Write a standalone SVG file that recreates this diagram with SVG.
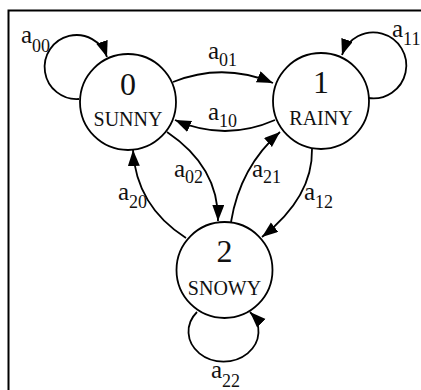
<svg xmlns="http://www.w3.org/2000/svg" width="421" height="390" viewBox="0 0 421 390" font-family="'Liberation Serif', 'Times New Roman', 'DejaVu Serif', serif">
<style>
text{font-family:'Liberation Serif','Times New Roman','DejaVu Serif',serif;fill:#111}
.node circle{fill:#fff;stroke:#000;stroke-width:1.8}
.num{font-size:32px;text-anchor:middle}
.name{font-size:20px;text-anchor:middle}
.edge{fill:none;stroke:#000;stroke-width:1.8;marker-end:url(#arr)}
.lbl{font-size:25px}
.sub{font-size:18px}
</style>
<defs>
<marker id="arr" markerUnits="userSpaceOnUse" markerWidth="18" markerHeight="14" refX="16" refY="6" orient="auto">
<path d="M0,0 L16,6 L0,12 z" fill="#000"/>
</marker>
</defs>
<rect x="0" y="0" width="421" height="390" fill="#fff"/>
<rect x="8.5" y="10.5" width="600" height="600" fill="none" stroke="#000" stroke-width="2"/>
<g id="connectors">
<path class="edge" d="M79,99 A32,32 0 1 1 107,57"/>
<path class="edge" d="M368,98 A33,33 0 1 0 342,55"/>
<path class="edge" d="M197,312 A35,30 0 1 0 250,312"/>
<path class="edge" d="M173,82 Q223,62 273,83"/>
<path class="edge" d="M275,120 Q225,142 175,120"/>
<path class="edge" d="M167,132 Q219,167 218,221"/>
<path class="edge" d="M231,222 Q240,167 280,132"/>
<path class="edge" d="M186,238 Q136,206 133,150"/>
<path class="edge" d="M312,149 Q313,197 262,237"/>
</g>
<g id="labels">
<text class="lbl" x="21" y="43">a<tspan class="sub" dy="9">00</tspan></text>
<text class="lbl" x="208" y="59">a<tspan class="sub" dy="7">01</tspan></text>
<text class="lbl" x="208" y="120">a<tspan class="sub" dy="7">10</tspan></text>
<text class="lbl" x="392" y="37">a<tspan class="sub" dy="8">11</tspan></text>
<text class="lbl" x="174" y="177">a<tspan class="sub" dy="6">02</tspan></text>
<text class="lbl" x="252" y="177">a<tspan class="sub" dy="6">21</tspan></text>
<text class="lbl" x="118" y="200">a<tspan class="sub" dy="8">20</tspan></text>
<text class="lbl" x="304" y="200">a<tspan class="sub" dy="8">12</tspan></text>
<text class="lbl" x="211" y="378">a<tspan class="sub" dy="9">22</tspan></text>
</g>
<g id="node0" class="node">
<circle cx="128" cy="102" r="48"/>
<text class="num" x="128" y="95">0</text>
<text class="name" x="128" y="126">SUNNY</text>
</g>
<g id="node1" class="node">
<circle cx="321" cy="101" r="48"/>
<text class="num" x="321" y="93">1</text>
<text class="name" x="321" y="125">RAINY</text>
</g>
<g id="node2" class="node">
<circle cx="224.5" cy="270" r="48"/>
<text class="num" x="224.5" y="262">2</text>
<text class="name" x="224.5" y="295">SNOWY</text>
</g>
</svg>
